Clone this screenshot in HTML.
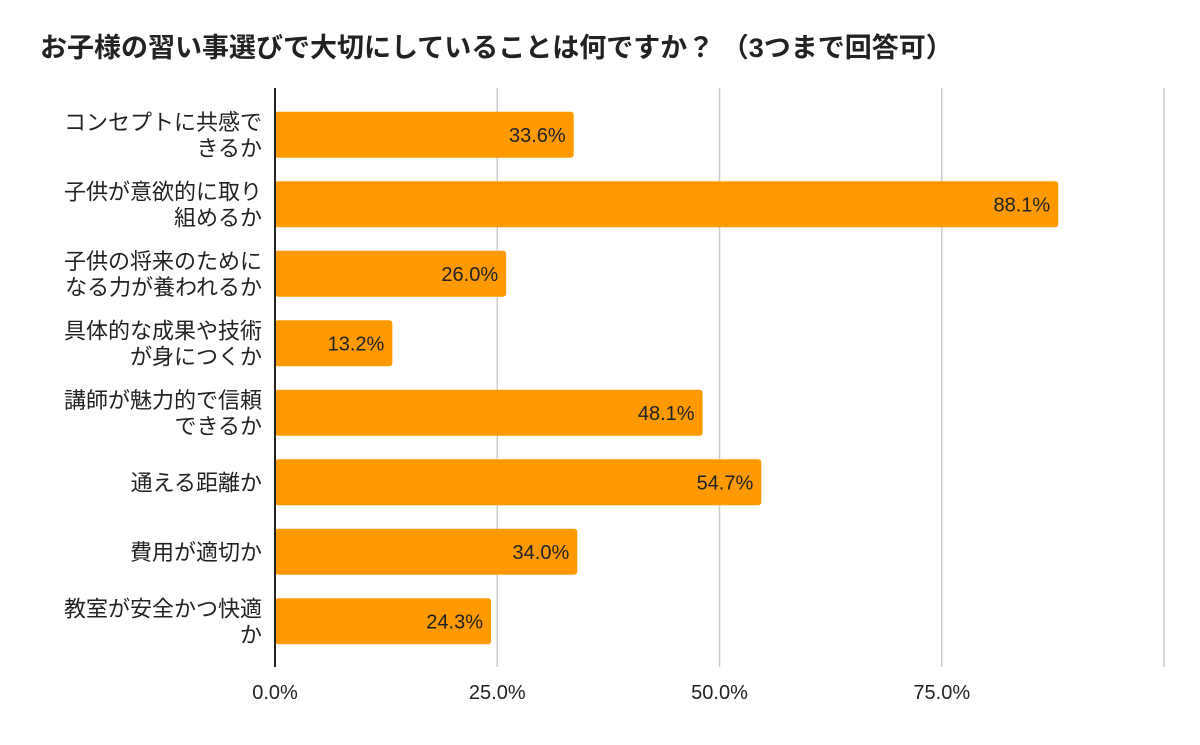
<!DOCTYPE html>
<html><head><meta charset="utf-8"><style>
body{margin:0;background:#fff;width:1200px;height:740px;overflow:hidden;font-family:"Liberation Sans","Noto Sans CJK JP",sans-serif}
</style></head><body>
<svg id="c" width="1200" height="740" font-family="Liberation Sans, Noto Sans CJK JP, sans-serif">
<text x="40" y="57" font-size="27" font-weight="bold" fill="#222">お子様の習い事選びで大切にしていることは何ですか？ （3つまで回答可）</text>
</svg>
<script>
const categories=[["コンセプトに共感で","きるか"],["子供が意欲的に取り","組めるか"],["子供の将来のために","なる力が養われるか"],["具体的な成果や技術","が身につくか"],["講師が魅力的で信頼","できるか"],["通える距離か"],["費用が適切か"],["教室が安全かつ快適","か"]];
const values=[33.6,88.1,26.0,13.2,48.1,54.7,34.0,24.3];
const ticks=[0,25,50,75,100];
const tickLabels=["0.0%","25.0%","50.0%","75.0%",""];
const svg=document.getElementById('c');const NS="http://www.w3.org/2000/svg";
const x0=275,x1=1164,yTop=100,step=69.5,bh=46;
const xs=v=>x0+(x1-x0)*v/100;
const yc=i=>yTop+step*i+step/2;
function mk(t,a){const e=document.createElementNS(NS,t);for(const k in a)e.setAttribute(k,a[k]);svg.appendChild(e);return e;}
ticks.forEach((t,i)=>{
 if(t>0){const g=mk('line',{x1:xs(t),x2:xs(t),y1:88,y2:667,stroke:'#ccc','stroke-width':1.5});
 
 }
 const l=mk('text',{x:xs(t),y:699,'font-size':20,'text-anchor':'middle',fill:'#222'});l.textContent=tickLabels[i];
 
 
});
values.forEach((v,i)=>{
 const r=mk('rect',{x:x0,y:yc(i)-bh/2,width:xs(v)-x0,height:bh,rx:3,fill:'#ff9900'});
 
 
 const t=mk('text',{x:xs(v)-8,y:yc(i)+7,'font-size':20,'text-anchor':'end',fill:'#222'});t.textContent=v.toFixed(1)+'%';
 
 
 const lines=categories[i];
 lines.forEach((s,j)=>{
  const ly=yc(i)+8+(j-(lines.length-1)/2)*26;
  const c=mk('text',{x:262,y:ly,'font-size':22,'text-anchor':'end',fill:'#222'});c.textContent=s;
  
  
 });
});
const ax=mk('line',{x1:x0,x2:x0,y1:88,y2:667,stroke:'#222','stroke-width':2});


</script>
</body></html>
